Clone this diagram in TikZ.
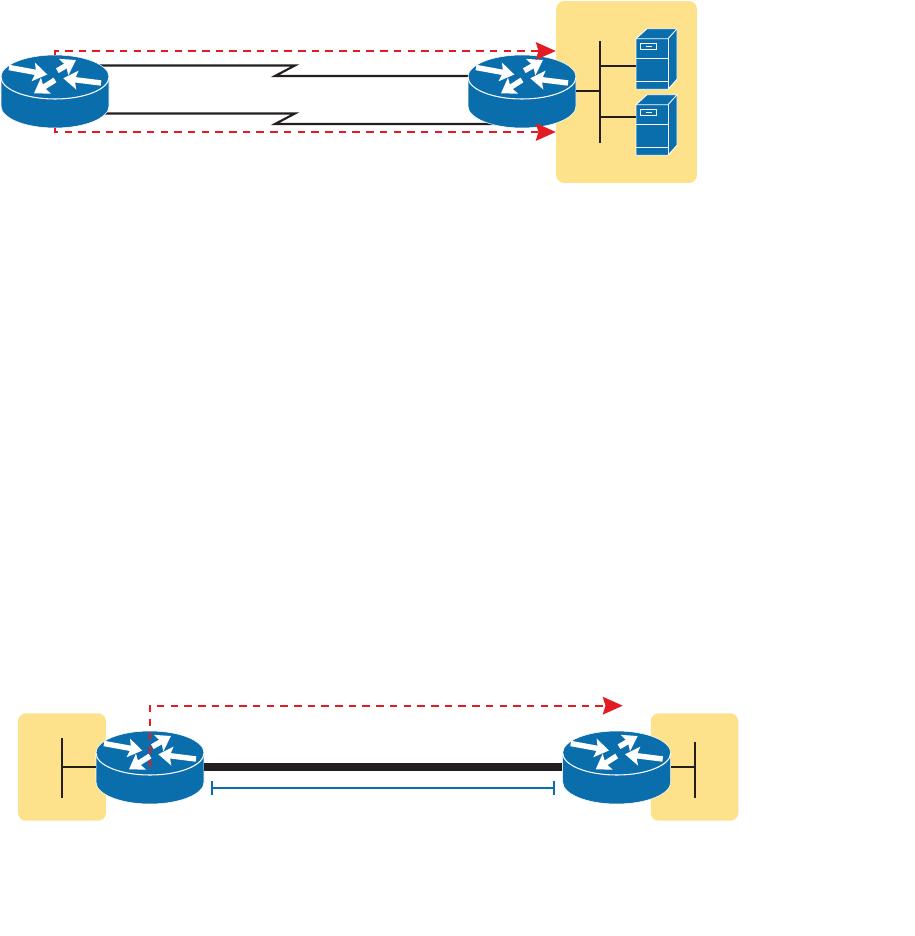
\documentclass[tikz,border=0pt]{standalone}
\usepackage{xcolor}
\usetikzlibrary{arrows.meta, backgrounds}
\definecolor{myblue}{RGB}{11,110,172}
\definecolor{myred}{RGB}{227,27,35}
\definecolor{mydark}{RGB}{35,31,32}
\definecolor{myyellow}{RGB}{253,226,139}
\tikzset{
  lanbox/.style={rectangle, fill=myyellow, rounded corners=0.16cm, inner sep=0pt},
  iconbox/.style={rectangle, inner sep=0pt, minimum width=2.16cm, minimum height=1.45cm},
  turn/.style={white, line width=3.1pt, -{Stealth[length=8pt, width=10.5pt, inset=1.5pt]}},
  flow/.style={myred, line width=1.15pt, dash pattern=on 4.3pt off 3.5pt,
    -{Stealth[length=11.3pt, width=10pt, inset=1.5pt]}},
  serial/.style={mydark, line width=1.2pt},
  lan/.style={mydark, line width=1.2pt},
  fat/.style={mydark, line width=4.5pt},
  span/.style={myblue, line width=0.9pt, {Bar[width=8pt]}-{Bar[width=8pt]}},
  router/.pic={
    \fill[myblue, draw=white, line width=0.3pt] (-54,0) -- (-54,29)
      arc[start angle=180, end angle=0, x radius=54, y radius=22] -- (54,0)
      arc[start angle=0, end angle=-180, x radius=54, y radius=22] -- cycle;
    \draw[white, line width=0.6pt] (-54,0)
      arc[start angle=180, end angle=0, x radius=54, y radius=22];
    \draw[turn] (-46,-9.5) -- (-7.7,-2.5);
    \draw[turn] (2.3,-6.3) -- (21,-17);
    \draw[turn] (46,6) -- (8.3,1.3);
    \draw[turn] (0,3) -- (-21,16.3);
    \node[iconbox] (-box) at (0,14.3) {};
  },
  server/.pic={
    \fill[myblue, draw=white, line width=0.5pt] (-16,-25.3) -- (-5,-35.3) -- (25,-35.3)
      -- (25,15.3) -- (16,25.3) -- (-16,25.3) -- cycle;
    \draw[white, line width=0.5pt] (-16,-25.3) -- (16,-25.3) -- (25,-35.3);
    \draw[white, line width=0.5pt] (16,-25.3) -- (16,25.3);
    \draw[white, line width=0.5pt] (-16,-6) -- (16,-6);
    \draw[white, line width=0.5pt] (-16,17) -- (16,17);
    \draw[white, line width=0.5pt] (-11.3,-20.7) rectangle (4.7,-14.7);
    \draw[white, line width=0.5pt] (-6,-17.7) -- (0,-17.7);
    \node[rectangle, inner sep=0pt, minimum width=0.64cm, minimum height=1.01cm] (-box) at (0,0) {};
  }
}
\begin{document}
\begin{tikzpicture}[x=0.02cm, y=-0.02cm]
  \useasboundingbox (0,0) rectangle (915,936);

  \pic (ra) at (55,77) {router};
  \pic (rb) at (522,77) {router};
  \pic (rc) at (150,753) {router};
  \pic (rd) at (616.7,753) {router};
  \pic (sa) at (652,64) {server};
  \pic (sb) at (652,130) {server};

  \coordinate (zaa) at (295,65.5);
  \coordinate (zab) at (275,76);
  \coordinate (zba) at (295,113.5);
  \coordinate (zbb) at (275,124);
  \coordinate (busat) at (600,41);
  \coordinate (busab) at (600,143);
  \coordinate (busas) at (600,66);
  \coordinate (busbs) at (600,117);
  \coordinate (buslt) at (62,738.3);
  \coordinate (buslb) at (62,797.7);
  \coordinate (busrt) at (695,742);
  \coordinate (busrb) at (695,797.7);
  \coordinate (flowa) at (555.7,51);
  \coordinate (flowb) at (555.7,132);
  \coordinate (flowc) at (622.7,705.7);
  \coordinate (spanl) at (211,788);
  \coordinate (spanr) at (555,788);

  \begin{scope}[on background layer]
    \node[lanbox, minimum width=2.82cm, minimum height=3.64cm] (lana) at (626.5,92) {};
    \node[lanbox, minimum width=1.76cm, minimum height=2.15cm] (lanb) at (62,767) {};
    \node[lanbox, minimum width=1.75cm, minimum height=2.15cm] (lanc) at (694.5,767) {};
    \draw[serial] (ra-box.center |- zaa) -- (zaa) -- (zab) -- (rb-box.center |- zab);
    \draw[serial] (ra-box.center |- zba) -- (zba) -- (zbb) -- (rb-box.center |- zbb);
  \end{scope}

  \draw[lan] (busat) -- (busab);
  \draw[lan] (rb-box.east) -- (rb-box.east -| busat);
  \draw[lan] (busas) -- (sa-box.west |- busas);
  \draw[lan] (busbs) -- (sb-box.west |- busbs);
  \draw[lan] (buslt) -- (buslb);
  \draw[lan] (rc-box.west) -- (rc-box.west -| buslt);
  \draw[lan] (busrt) -- (busrb);
  \draw[lan] (rd-box.east) -- (rd-box.east -| busrt);

  \draw[fat] (rc-box) -- (rd-box);
  \draw[span] (spanl) -- (spanr);

  \draw[flow] (ra-box.north) |- (flowa);
  \draw[flow] (ra-box.south) |- (flowb);
  \draw[flow] (rc-box.center) |- (flowc);
\end{tikzpicture}
\end{document}
